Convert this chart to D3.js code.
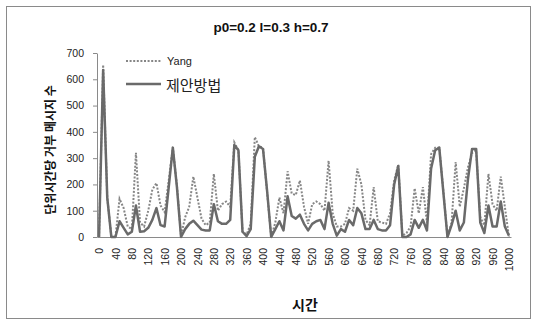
<!DOCTYPE html>
<html>
<head>
<meta charset="utf-8">
<script src="https://cdn.jsdelivr.net/npm/d3@7"></script>
<style>
  body { margin: 0; background: #fff; }
  svg text { font-family: "Liberation Sans", Arial, sans-serif; }
  .kr { font-family: "Noto Sans CJK KR", sans-serif; }
</style>
</head>
<body>
<div id="figure"></div>
<script>
// time (x categories)
const times = [0,10,20,30,40,50,60,70,80,90,100,110,120,130,140,150,160,170,180,190,
  200,210,220,230,240,250,260,270,280,290,300,310,320,330,340,350,360,370,380,390,
  400,410,420,430,440,450,460,470,480,490,500,510,520,530,540,550,560,570,580,590,
  600,610,620,630,640,650,660,670,680,690,700,710,720,730,740,750,760,770,780,790,
  800,810,820,830,840,850,860,870,880,890,900,910,920,930,940,950,960,970,980,990,1000]

const xTickLabels = [0,40,80,120,160,200,240,280,320,360,400,440,480,520,560,600,640,680,720,760,800,840,880,920,960,1000]
const yTickLabels = [0,100,200,300,400,500,600,700]

// Yang (dotted)
const yang = [0,655,150,0,0,145,110,40,30,320,55,40,100,180,205,120,95,215,340,195,
  5,75,115,230,150,70,45,55,240,100,125,135,115,360,330,20,10,50,380,345,
  340,170,0,55,150,90,250,165,160,215,115,50,125,135,125,100,290,90,40,40,
  50,110,100,260,200,65,45,190,60,55,50,90,215,275,5,15,40,185,90,190,
  55,315,340,340,175,0,55,285,115,185,265,320,330,75,45,240,125,100,230,115,0]

// proposed method (solid)
const proposed = [0,635,150,0,0,60,35,10,20,120,20,22,35,65,110,45,40,190,340,190,
  0,30,50,62,45,28,25,25,125,60,50,50,65,350,330,20,3,30,305,345,
  335,175,0,30,60,25,155,80,70,85,50,25,50,60,65,30,130,50,5,30,
  20,65,45,110,90,30,30,65,30,25,25,45,200,270,0,0,10,65,35,65,
  25,260,330,340,170,0,45,100,25,55,220,335,335,55,15,120,40,40,135,40,5]

const width = 533
const height = 321

const svg = d3.select('#figure').append('svg')
  .attr('width', width).attr('height', height)
  .attr('style', 'background:white')

// frame
svg.append('rect').attr('x', 6.5).attr('y', 6.5).attr('width', 524).attr('height', 312)
  .attr('fill', 'none').attr('stroke', '#8a8a8a').attr('stroke-width', 1)

const x = d3.scalePoint().domain(times).range([97, 511]).padding(0.5)
const y = d3.scaleLinear().domain([0, 700]).range([237, 53])

// y axis
const yAxis = svg.append('g').attr('transform', 'translate(97,0)')
  .call(d3.axisLeft(y).tickValues(yTickLabels).tickSize(4).tickSizeOuter(0).tickPadding(9))
yAxis.selectAll('path, line').attr('stroke', '#8a8a8a')
yAxis.selectAll('text').attr('font-size', 10.5).attr('fill', '#222')
  .attr('font-family', '"Liberation Sans", Arial, sans-serif')

// x axis
const xAxis = svg.append('g').attr('transform', 'translate(0,237)')
  .call(d3.axisBottom(x).tickValues(xTickLabels).tickSize(0).tickSizeOuter(0))
xAxis.select('path').attr('stroke', '#8a8a8a')
xAxis.selectAll('text')
  .attr('font-size', 10.5).attr('fill', '#222')
  .attr('font-family', '"Liberation Sans", Arial, sans-serif')
  .attr('transform', 'rotate(-90)')
  .attr('text-anchor', 'end')
  .attr('x', -11).attr('y', 0).attr('dy', '0.35em')

// lines
const line = (vals) => d3.line()
  .x((d, i) => x(times[i]))
  .y(d => y(d))(vals)

svg.append('path').attr('d', line(yang))
  .attr('fill', 'none').attr('stroke', '#868686').attr('stroke-width', 2)
  .attr('stroke-dasharray', '2,1.6')

svg.append('path').attr('d', line(proposed))
  .attr('fill', 'none').attr('stroke', '#6a6a6a').attr('stroke-width', 2.5)
  .attr('stroke-linejoin', 'round')

// title
svg.append('text').text('p0=0.2 l=0.3 h=0.7')
  .attr('x', 271).attr('y', 32).attr('text-anchor', 'middle')
  .attr('font-size', 13.5).attr('font-weight', 'bold').attr('fill', '#111')

// axis titles
svg.append('text').attr('class', 'kr').text('시간')
  .attr('x', 305).attr('y', 310).attr('text-anchor', 'middle')
  .attr('font-size', 14).attr('font-weight', 'bold').attr('fill', '#111')

svg.append('text').attr('class', 'kr').text('단위시간당 거부 메시지 수')
  .attr('transform', 'translate(55,150) rotate(-90)')
  .attr('text-anchor', 'middle')
  .attr('font-size', 12).attr('font-weight', 'bold').attr('fill', '#111')

// legend
const legend = svg.append('g')
legend.append('line').attr('x1', 126).attr('x2', 162).attr('y1', 61).attr('y2', 61)
  .attr('stroke', '#868686').attr('stroke-width', 2).attr('stroke-dasharray', '2,1.6')
legend.append('text').text('Yang').attr('x', 167).attr('y', 65)
  .attr('font-size', 11).attr('fill', '#222')
legend.append('line').attr('x1', 126).attr('x2', 161).attr('y1', 84).attr('y2', 84)
  .attr('stroke', '#6a6a6a').attr('stroke-width', 2.5)
legend.append('text').attr('class', 'kr').text('제안방법').attr('x', 166).attr('y', 91)
  .attr('font-size', 15).attr('fill', '#222')
</script>
</body>
</html>
